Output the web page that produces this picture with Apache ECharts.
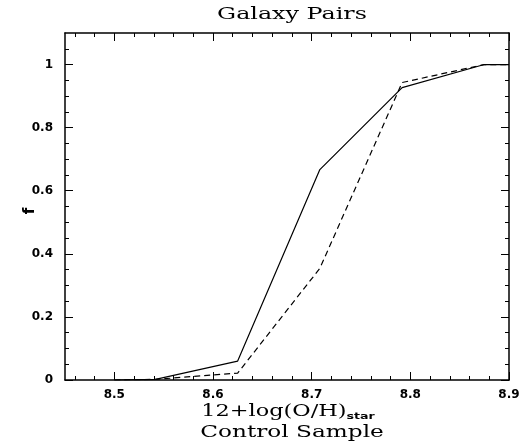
<!DOCTYPE html>
<html><head><meta charset="utf-8">
<script src="https://cdn.jsdelivr.net/npm/echarts@6/dist/echarts.min.js"></script>
<style>html,body{margin:0;padding:0;background:#fff}#c{width:523px;height:448px}</style>
</head><body><div id="c"></div>
<script>
const xPoints = [8.5, 8.5417, 8.625, 8.7083, 8.7917, 8.875, 8.9];
const pairsSolid = [0, 0.002, 0.06, 0.667, 0.927, 1, 1];
const controlDashed = [0, 0.002, 0.022, 0.354, 0.943, 1, 1];
const xMajor = [8.5, 8.6, 8.7, 8.8, 8.9];
const xMinor = [8.46, 8.48, 8.52, 8.54, 8.56, 8.58, 8.62, 8.64, 8.66, 8.68, 8.72, 8.74, 8.76, 8.78, 8.82, 8.84, 8.86, 8.88];
const yMajor = [0, 0.2, 0.4, 0.6, 0.8, 1];
const yMinor = [0.05, 0.1, 0.15, 0.25, 0.3, 0.35, 0.45, 0.5, 0.55, 0.65, 0.7, 0.75, 0.85, 0.9, 0.95, 1.05];

const chart = echarts.init(document.getElementById('c'));
const lineStyle = {color: '#000', width: 1.5};
const labelFont = {color: '#000', fontFamily: 'DejaVu Sans', fontWeight: 'bold', fontSize: 12};
function xAx(pos, ticks, len, labels, line) {
  return {type: 'value', position: pos, min: 8.45, max: 8.9, gridIndex: 0,
    axisLine: {show: line, onZero: false, lineStyle: lineStyle},
    axisTick: {show: true, inside: true, length: len, customValues: ticks, lineStyle: {color: '#000', width: 1}},
    axisLabel: labels ? Object.assign({show: true, customValues: ticks, margin: 9, formatter: v => v.toFixed(1)}, labelFont) : {show: false},
    splitLine: {show: false}};
}
function yAx(pos, ticks, len, labels, line) {
  return {type: 'value', position: pos, min: 0, max: 1.1, gridIndex: 0,
    axisLine: {show: line, onZero: false, lineStyle: lineStyle},
    axisTick: {show: true, inside: true, length: len, customValues: ticks, lineStyle: {color: '#000', width: 1}},
    axisLabel: labels ? Object.assign({show: true, customValues: ticks, margin: 12, formatter: v => (v === 0 || v === 1) ? String(v) : v.toFixed(1)}, labelFont) : {show: false},
    splitLine: {show: false}};
}
chart.setOption({
  animation: false,
  backgroundColor: '#fff',
  grid: {left: 65, right: 14, top: 33, bottom: 68},
  xAxis: [xAx('bottom', xMajor, 8, true, true), xAx('bottom', xMinor, 4, false, false),
          xAx('top', xMajor, 8, false, true), xAx('top', xMinor, 4, false, false)],
  yAxis: [yAx('left', yMajor, 8, true, true), yAx('left', yMinor, 4, false, false),
          yAx('right', yMajor, 8, false, true), yAx('right', yMinor, 4, false, false)],
  series: [
    {type: 'line', xAxisIndex: 0, yAxisIndex: 0, data: xPoints.map((x, i) => [x, pairsSolid[i]]),
     symbol: 'none', lineStyle: {color: '#000', width: 1.2, type: 'solid'}},
    {type: 'line', xAxisIndex: 0, yAxisIndex: 0, data: xPoints.map((x, i) => [x, controlDashed[i]]),
     symbol: 'none', lineStyle: {color: '#000', width: 1.2, type: [6, 4]}}
  ],
  graphic: [
    {type: 'text', x: 292, y: 15, scaleX: 1.4, style: {text: 'Galaxy Pairs', fontFamily: 'DejaVu Serif', fontSize: 17, fill: '#000', textAlign: 'center', textVerticalAlign: 'middle'}},
    {type: 'text', x: 288, y: 412, scaleX: 1.4, style: {
      text: '{a|12+log(O/H)}{s|star}', textAlign: 'center', textVerticalAlign: 'middle',
      rich: {a: {fontFamily: 'DejaVu Serif', fontSize: 16, fill: '#000', color: '#000'},
             s: {fontFamily: 'DejaVu Sans', fontWeight: 'bold', fontSize: 9, color: '#000', padding: [10, 0, 0, 0]}}}},
    {type: 'text', x: 292, y: 433, scaleX: 1.45, style: {text: 'Control Sample', fontFamily: 'DejaVu Serif', fontSize: 16, fill: '#000', textAlign: 'center', textVerticalAlign: 'middle'}},
    {type: 'text', x: 30, y: 211, rotation: Math.PI / 2, style: {text: 'f', fontFamily: 'DejaVu Sans', fontWeight: 'bold', fontSize: 15, fill: '#000', textAlign: 'center', textVerticalAlign: 'middle'}}
  ]
});
</script></body></html>
